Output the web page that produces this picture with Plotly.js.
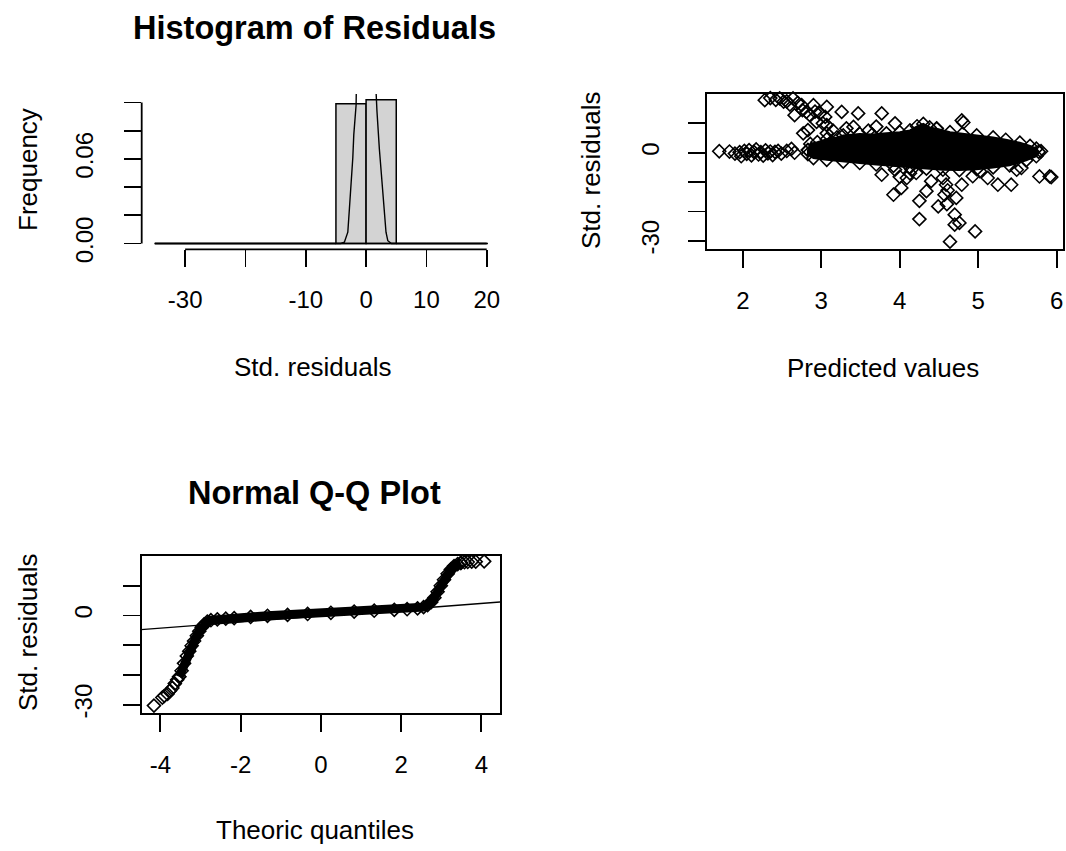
<!DOCTYPE html>
<html><head><meta charset="utf-8">
<script src="https://cdn.plot.ly/plotly-3.0.1.min.js"></script>
<style>html,body{margin:0;padding:0;background:#fff}#chart{width:1066px;height:851px}</style>
</head><body><div id="chart"></div>
<script>
// ---------- Histogram of residuals (density scale) ----------
const histBreaks  = [-35,-30,-25,-20,-15,-10,-5,0,5,10,15,20];
const histDensity = [0,0,0,0,0,0,0.0990,0.1019,0,0,0];
const histXTicks  = [-30,-20,-10,0,10,20];
const histXLabels = ['-30','','-10','0','10','20'];
const histYTicks  = [0,0.02,0.04,0.06,0.08,0.10];
const histYLabels = ['0.00','','','0.06','',''];
// density curve (clipped at the top of the plot region)
const densX = [-35.1,-4.2,-3.6,-3.3,-3.03,-2.76,-2.48,-2.2,-2.04,-1.8,-1.66,-1.5,-0.8,0,0.8,1.5,1.66,1.8,1.94,2.2,2.37,2.6,2.76,3.03,3.3,3.6,4.2,20.2];
const densY = [0,0,0.001,0.004,0.008,0.025,0.041,0.061,0.077,0.090,0.098,0.14,0.22,0.25,0.22,0.14,0.107,0.094,0.082,0.067,0.058,0.046,0.037,0.018,0.008,0.002,0,0];

// ---------- Residuals vs predicted ----------
const predX = [1.70,1.83,1.90,1.96,1.98,2.02,2.05,2.08,2.11,2.14,2.17,2.20,2.23,2.26,2.29,2.32,2.35,2.38,2.41,2.45,2.49,2.56,2.62,2.66,
  2.28,2.35,2.42,2.47,2.52,2.56,2.60,2.64,2.66,2.70,2.75,2.76,2.81,2.85,2.90,2.92,2.94,2.98,3.02,3.05,3.07,3.07,3.26,3.47,3.77,3.94,
  2.77,2.83,3.07,3.15,3.32,3.41,3.60,3.70,4.79,4.81,4.47,5.80,5.78,5.91,5.93,
  3.77,3.94,3.92,4.02,4.09,4.15,4.21,4.25,4.25,4.34,4.40,4.49,4.55,4.57,4.59,4.61,4.70,4.70,4.76,4.64,4.96,4.72,4.79,4.93,5.02,5.12,5.25,5.42,5.49,5.55,4.00,4.13,4.60];
const predY = [0.5,0.4,-0.3,0.2,-1.2,0.6,-0.4,0.9,-0.9,0.3,1.1,-0.6,0.2,-1.0,0.8,-0.2,0.4,-0.8,0.3,0.6,-0.3,0.6,1.3,0.0,
  17.9,18.6,18.0,18.5,17.4,17.5,16.4,18.5,12.8,17.0,16.2,14.5,13.9,12.9,16.2,14.0,10.5,13.4,10.0,12.2,9.4,15.6,13.9,13.4,13.4,10.0,
  6.6,7.7,6.6,7.5,8.3,8.8,7.5,8.9,11.0,10.3,8.3,0.5,-8.1,-8.1,-8.3,
  -7.5,-5.8,-14.3,-12.0,-8.6,-5.8,-6.9,-22.6,-16.4,-13.1,-9.7,-18.3,-8.6,-14.3,-10.9,-12.8,-21.1,-24.5,-23.9,-30.3,-26.8,-15.4,-10.9,-8.0,-6.3,-8.6,-10.9,-10.9,-5.8,-5.2,-8.2,-7.0,-17.5];
// outline of the solid cloud of overlapping points
const cloudX = [2.83,2.86,2.95,3.07,3.20,3.28,3.49,3.65,3.83,4.00,4.13,4.22,4.30,4.38,4.47,4.64,4.80,4.98,5.19,5.35,5.53,5.66,5.74,5.77,
  5.74,5.61,5.40,5.19,4.98,4.76,4.55,4.34,4.13,3.92,3.70,3.49,3.28,3.07,2.90,2.83];
const cloudY = [0.9,3.0,3.6,4.6,5.2,5.9,6.4,6.2,6.6,7.0,7.6,9.0,9.8,8.6,8.2,7.0,6.5,5.9,5.2,4.4,3.4,2.3,1.4,0.3,
  -1.2,-2.6,-4.3,-5.0,-5.6,-5.9,-5.8,-5.4,-5.0,-4.5,-4.0,-3.5,-3.0,-2.4,-1.8,-0.5];
const predXTicks = [2,3,4,5,6];
const residTicks  = [-30,-20,-10,0,10];
const residLabels = ['-30','','','0',''];

// ---------- Normal Q-Q ----------
const qqLowX  = [-4.16,-3.95,-3.90,-3.82,-3.76,-3.70,-3.64,-3.58,-3.53];
const qqLowY  = [-30.3,-27.6,-27.0,-26.4,-25.3,-24.4,-22.9,-21.6,-20.6];
const qqBodyX = [-3.53,-3.47,-3.41,-3.34,-3.28,-3.22,-3.16,-3.09,-3.03,-2.97,-2.91,-2.83,-2.74,-2.58,-2.37,-2.16,-1.75,-1.33,-0.83,-0.33,0.25,0.83,1.33,1.83,2.15,2.41,2.56,2.66,2.75,2.83,2.91,2.99,3.07,3.16,3.24,3.32,3.41,3.49];
const qqBodyY = [-20.6,-18.6,-16.1,-13.6,-12.0,-10.2,-8.6,-6.8,-5.3,-4.0,-3.0,-2.1,-1.6,-1.3,-1.1,-0.9,-0.5,-0.1,0.2,0.5,0.9,1.3,1.6,1.9,2.1,2.4,2.8,3.5,4.5,6.0,8.0,10.0,12.0,14.0,15.5,16.6,17.3,17.7];
const qqHighX = [3.49,3.58,3.66,3.76,3.86,4.07];
const qqHighY = [17.7,17.9,18.0,18.1,18.1,18.2];
const qqIntercept = -0.12, qqSlope = 1.04;
const qqTicks = [-4,-2,0,2,4];

// ---------- drawing ----------
const W = 1066, H = 851;
const FONT = 'Liberation Sans, Arial, sans-serif';
const px = v => v / W, py = v => 1 - v / H;
const mids = histBreaks.slice(0,-1).map((b,i)=>(b+histBreaks[i+1])/2);
const widths = histBreaks.slice(0,-1).map((b,i)=>histBreaks[i+1]-b);
const xr3 = [-4.465, 4.465];
const diamond = {symbol:'diamond-open', size:10, color:'black', line:{color:'black', width:1.6}};

const traces = [
  {type:'bar', x:mids, y:histDensity, width:widths, xaxis:'x', yaxis:'y',
   marker:{color:'#d3d3d3', line:{color:'black', width:1.5}}, hoverinfo:'skip'},
  {type:'scatter', mode:'lines', x:[histBreaks[0], histBreaks[histBreaks.length-1]], y:[0,0], xaxis:'x', yaxis:'y',
   line:{color:'black', width:1.5}},
  {type:'scatter', mode:'lines', x:densX, y:densY, xaxis:'x', yaxis:'y', line:{color:'black', width:1.4}},

  {type:'scatter', mode:'lines+markers', x:cloudX.concat([cloudX[0]]), y:cloudY.concat([cloudY[0]]), fill:'toself',
   fillcolor:'black', line:{color:'black', width:2}, marker:diamond, xaxis:'x2', yaxis:'y2'},
  {type:'scatter', mode:'markers', x:predX, y:predY, marker:diamond, xaxis:'x2', yaxis:'y2', cliponaxis:false},

  {type:'scatter', mode:'lines', x:xr3.map(v=>v*1.05), y:xr3.map(v=>qqIntercept+qqSlope*v*1.05), xaxis:'x3', yaxis:'y3',
   line:{color:'black', width:1.3}},
  {type:'scatter', mode:'lines+markers', x:qqBodyX, y:qqBodyY, xaxis:'x3', yaxis:'y3',
   line:{color:'black', width:9}, marker:diamond},
  {type:'scatter', mode:'markers', x:qqLowX.concat(qqHighX), y:qqLowY.concat(qqHighY), xaxis:'x3', yaxis:'y3', marker:diamond, cliponaxis:false}
];

const tickCommon = {ticks:'outside', ticklen:17, tickwidth:1.8, tickcolor:'black', showgrid:false, zeroline:false,
  tickfont:{family:FONT, size:24, color:'black'}, fixedrange:true};
const boxLine = {showline:true, mirror:true, linecolor:'black', linewidth:1.8};

const layout = {
  width:W, height:H, margin:{l:0,r:0,t:0,b:0}, paper_bgcolor:'white', plot_bgcolor:'white',
  showlegend:false, bargap:0, font:{family:FONT, color:'black'},
  xaxis: Object.assign({}, tickCommon, {domain:[px(141.7), px(500)], range:[-37.2,22.2], anchor:'y',
    tickmode:'array', tickvals:histXTicks, ticktext:histXLabels, showline:false, ticklabelstandoff:12}),
  yaxis: Object.assign({}, tickCommon, {domain:[py(249.3), py(94)], range:[-0.0041,0.106], anchor:'x',
    tickmode:'array', tickvals:histYTicks, ticktext:histYLabels, tickangle:-90, showline:false, ticklabelstandoff:21}),
  xaxis2: Object.assign({}, tickCommon, boxLine, {domain:[px(706.7), px(1063)], range:[1.54,6.08], anchor:'y2',
    tickmode:'array', tickvals:predXTicks, ticktext:predXTicks.map(String), ticklabelstandoff:12}),
  yaxis2: Object.assign({}, tickCommon, boxLine, {domain:[py(249.3), py(94)], range:[-32.9,20], anchor:'x2',
    tickmode:'array', tickvals:residTicks, ticktext:residLabels, tickangle:-90, ticklabelstandoff:19}),
  xaxis3: Object.assign({}, tickCommon, boxLine, {domain:[px(141.7), px(500)], range:xr3, anchor:'y3',
    tickmode:'array', tickvals:qqTicks, ticktext:qqTicks.map(String), ticklabelstandoff:12}),
  yaxis3: Object.assign({}, tickCommon, boxLine, {domain:[py(713.3), py(556)], range:[-32.9,20], anchor:'x3',
    tickmode:'array', tickvals:residTicks, ticktext:residLabels, tickangle:-90, ticklabelstandoff:21}),
  shapes: [
    {type:'line', xref:'x', yref:'y domain', x0:histXTicks[0], x1:histXTicks[histXTicks.length-1], y0:0, y1:0,
     line:{color:'black', width:1.8}},
    {type:'line', xref:'x domain', yref:'y', x0:0, x1:0, y0:histYTicks[0], y1:histYTicks[histYTicks.length-1],
     line:{color:'black', width:1.8}}
  ],
  annotations: [
    {text:'<b>Histogram of Residuals</b>', x:px(314), y:py(28), size:32.5},
    {text:'<b>Normal Q-Q Plot</b>', x:px(314), y:py(493), size:32.5},
    {text:'Std. residuals', x:px(313), y:py(367), size:26},
    {text:'Predicted values', x:px(882.5), y:py(368), size:26},
    {text:'Theoric quantiles', x:px(315), y:py(830), size:26},
    {text:'Frequency', x:px(28), y:py(170), size:26, rot:-90},
    {text:'Std. residuals', x:px(591), y:py(170), size:26, rot:-90},
    {text:'Std. residuals', x:px(28), y:py(632), size:26, rot:-90}
  ].map(a=>({text:a.text, x:a.x, y:a.y, xref:'paper', yref:'paper', showarrow:false, xanchor:'center', yanchor:'middle',
    textangle:a.rot||0, font:{family:FONT, size:a.size, color:'black'}}))
};

Plotly.newPlot('chart', traces, layout, {staticPlot:true, displayModeBar:false});
</script>
</body></html>
